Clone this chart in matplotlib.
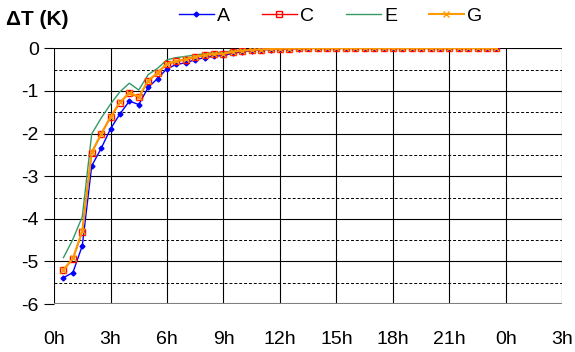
import numpy as np
import matplotlib.pyplot as plt
from matplotlib.ticker import MultipleLocator, FuncFormatter

plt.rcParams['font.family'] = ['Liberation Sans', 'DejaVu Sans']

# hours since start, every half hour
hours = [0.5 * i for i in range(1, 48)]

tail = [0.0] * 20

dT_A = [-5.38, -5.26, -4.63, -2.76, -2.35, -1.89, -1.54, -1.24, -1.32, -0.92,
        -0.71, -0.48, -0.38, -0.34, -0.27, -0.22, -0.19, -0.17, -0.12, -0.08,
        -0.06, -0.04, -0.03, -0.02, -0.01, -0.01, -0.005] + tail
dT_C = [-5.20, -4.94, -4.30, -2.45, -2.02, -1.62, -1.28, -1.05, -1.15, -0.77,
        -0.58, -0.37, -0.31, -0.27, -0.21, -0.17, -0.13, -0.14, -0.08, -0.06,
        -0.04, -0.03, -0.02, -0.01, -0.01, -0.005, 0.0] + tail
dT_E = [-4.91, -4.48, -3.95, -2.01, -1.64, -1.31, -1.02, -0.82, -0.98, -0.62,
        -0.47, -0.27, -0.22, -0.19, -0.16, -0.13, -0.10, -0.09, -0.06, -0.04,
        -0.03, -0.02, -0.01, -0.01, 0.0, 0.0, 0.0] + tail
dT_G = [-5.19, -4.93, -4.29, -2.44, -2.01, -1.61, -1.27, -1.04, -1.14, -0.76,
        -0.57, -0.36, -0.30, -0.26, -0.20, -0.16, -0.13, -0.13, -0.08, -0.06,
        -0.04, -0.03, -0.02, -0.01, -0.01, -0.005, 0.0] + tail

xtick_labels = ['0h', '3h', '6h', '9h', '12h', '15h', '18h', '21h', '0h', '3h']

fig = plt.figure(figsize=(5.75, 3.52), dpi=100)
ax = fig.add_axes([0.094, 0.136, 0.884, 0.727])

# grid: solid at integers, dashed at half values, solid verticals every 3h
for v in np.arange(-6, 0.01, 1):
    ax.axhline(v, color='black', lw=0.8, zorder=1)
for v in np.arange(-5.5, 0, 1):
    ax.axhline(v, color='black', lw=0.7, ls=(0, (3, 2)), zorder=1)
for v in range(0, 28, 3):
    ax.axvline(v, color='black', lw=0.8, zorder=1)
ax.axhline(-6, color='#808080', lw=1.5, zorder=1)

ax.plot(hours, dT_A, color='#0000FF', lw=1, marker='D', ms=2.5, label='A', zorder=3)
ax.plot(hours, dT_C, color='#FF0000', lw=1, marker='s', ms=4.5, mfc='none',
        mew=1, label='C', zorder=4)
ax.plot(hours, dT_E, color='#339966', lw=1, label='E', zorder=2)
ax.plot(hours, dT_G, color='#FF9900', lw=1.5, marker='x', ms=5, mew=1,
        label='G', zorder=5)

ax.set_xlim(0, 27)
ax.set_ylim(-6, 0)
ax.set_xticks(range(0, 28, 3))
ax.set_xticklabels(xtick_labels)
ax.yaxis.set_major_locator(MultipleLocator(1))
ax.yaxis.set_major_formatter(FuncFormatter(lambda v, p: '%d' % v))
ax.tick_params(axis='x', length=0, pad=19, labelsize=14)
ax.tick_params(axis='y', length=7, width=0.8, direction='out', pad=4, labelsize=14)
for s in ax.spines.values():
    s.set_visible(False)

fig.text(0.01, 0.945, 'ΔT (K)', fontsize=15, fontweight='bold', va='center')
fig.legend(loc='center', bbox_to_anchor=(0.575, 0.955), ncol=4, frameon=False,
           fontsize=14, handlelength=1.8, handletextpad=0.2, columnspacing=1.6)

plt.savefig('out.png')
